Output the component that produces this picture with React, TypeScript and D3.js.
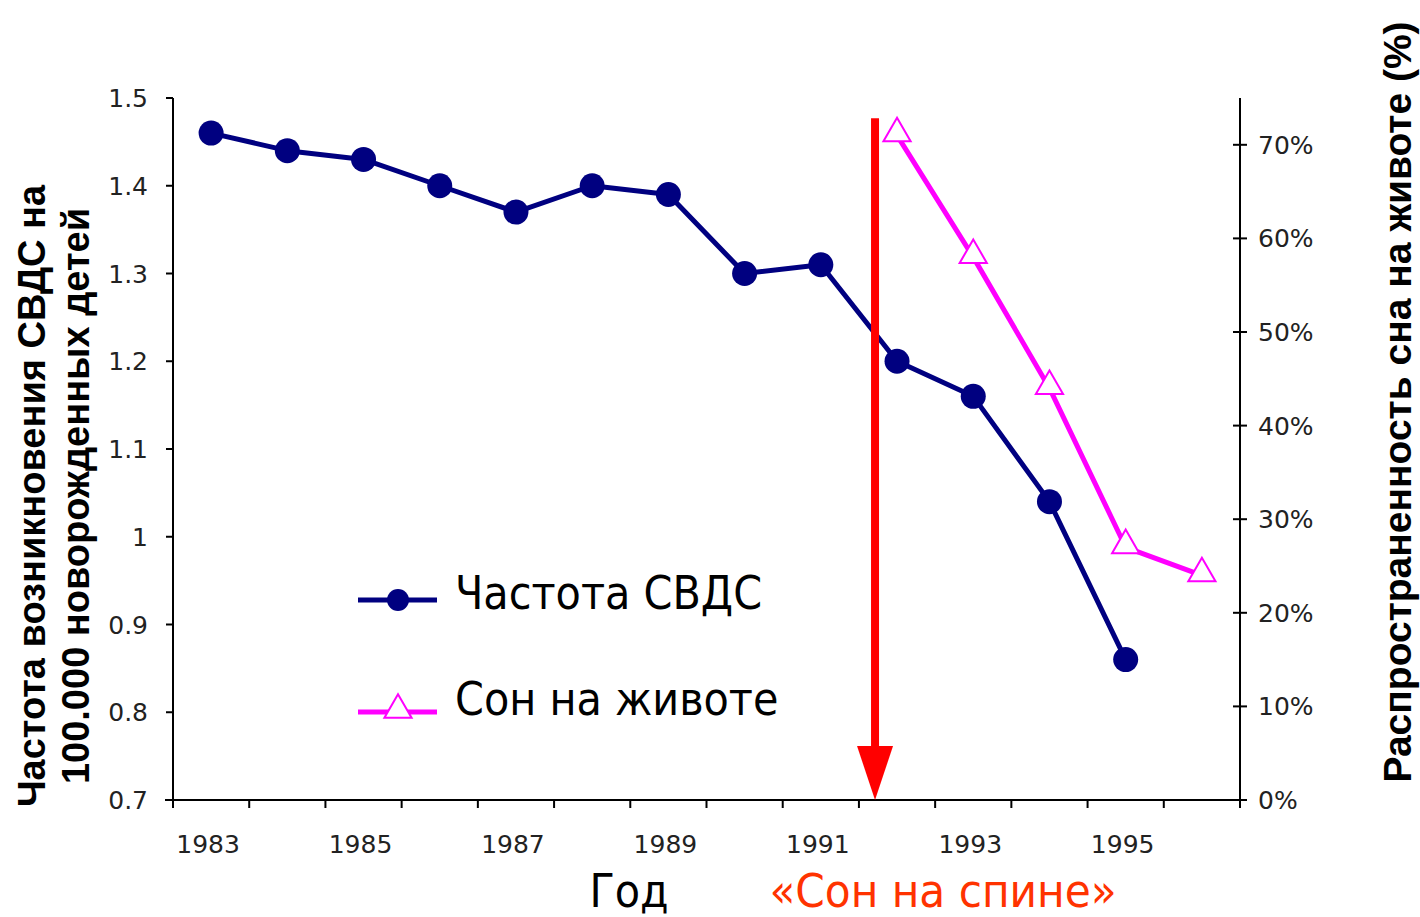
import React from "react";
import * as d3 from "d3";

// data
const years = [1983, 1984, 1985, 1986, 1987, 1988, 1989, 1990, 1991, 1992, 1993, 1994, 1995, 1996];
const sidsRate = [1.46, 1.44, 1.43, 1.4, 1.37, 1.4, 1.39, 1.3, 1.31, 1.2, 1.16, 1.04, 0.86, null];
const proneSleep = [null, null, null, null, null, null, null, null, null, 0.71, 0.58, 0.44, 0.27, 0.24];
const leftTicks = [0.7, 0.8, 0.9, 1, 1.1, 1.2, 1.3, 1.4, 1.5];
const rightTicks = [0, 0.1, 0.2, 0.3, 0.4, 0.5, 0.6, 0.7];
const yearLabels = [1983, 1985, 1987, 1989, 1991, 1993, 1995];

const NAVY = "#000080";
const MAGENTA = "#ff00ff";
const tickFont = "'DejaVu Sans', Verdana, sans-serif";
const labelFont = "'DejaVu Sans Condensed', 'DejaVu Sans', sans-serif";
const titleFont = "'Liberation Sans', Arial, sans-serif";

const App = () => {
  const width = 1420,
    height = 917;
  const plot = { left: 173, right: 1240, top: 98, bottom: 800 };

  const x = d3
    .scaleBand<number>()
    .domain(years)
    .range([plot.left, plot.right])
    .padding(0);
  const cx = (d: number) => (x(d) as number) + x.bandwidth() / 2;

  const yLeft = d3.scaleLinear().domain([0.7, 1.5]).range([plot.bottom, plot.top]);
  const yRight = d3.scaleLinear().domain([0, 0.75]).range([plot.bottom, plot.top]);

  const sidsPts = years
    .map((yr, i) => ({ yr, v: sidsRate[i] }))
    .filter((d) => d.v != null) as { yr: number; v: number }[];
  const pronePts = years
    .map((yr, i) => ({ yr, v: proneSleep[i] }))
    .filter((d) => d.v != null) as { yr: number; v: number }[];

  const sidsLine = d3
    .line<{ yr: number; v: number }>()
    .x((d) => cx(d.yr))
    .y((d) => yLeft(d.v))(sidsPts);
  const proneLine = d3
    .line<{ yr: number; v: number }>()
    .x((d) => cx(d.yr))
    .y((d) => yRight(d.v))(pronePts);

  const triangle = d3.symbol().type(d3.symbolTriangle).size(320)();

  // boundaries between year bands for x ticks
  const xTicks = years.map((yr) => x(yr) as number).concat([plot.right]);

  // red arrow ("back to sleep" campaign)
  const arrowX = cx(1992) - 22;
  const arrowTop = yLeft(1.477);
  const arrowBottom = plot.bottom;

  return (
    <svg width={width} height={height} style={{ display: "block", position: "absolute", left: 0, top: 0 }}>
      <rect width={width} height={height} fill="white" />

      {/* left axis */}
      <line x1={plot.left} x2={plot.left} y1={plot.top} y2={plot.bottom} stroke="#000" strokeWidth={2} />
      {leftTicks.map((t) => (
        <g key={t}>
          <line x1={plot.left - 7} x2={plot.left} y1={yLeft(t)} y2={yLeft(t)} stroke="#000" strokeWidth={2} />
          <text
            x={plot.left - 25}
            y={yLeft(t)}
            dy="0.36em"
            textAnchor="end"
            fontFamily={tickFont}
            fontSize={25}
            fill="#222"
          >
            {t === 1 ? "1" : d3.format(".1f")(t)}
          </text>
        </g>
      ))}

      {/* right axis */}
      <line x1={plot.right} x2={plot.right} y1={plot.top} y2={plot.bottom} stroke="#000" strokeWidth={2} />
      {rightTicks.map((t) => (
        <g key={t}>
          <line x1={plot.right - 7} x2={plot.right + 7} y1={yRight(t)} y2={yRight(t)} stroke="#000" strokeWidth={2} />
          <text
            x={plot.right + 18}
            y={yRight(t)}
            dy="0.36em"
            textAnchor="start"
            fontFamily={tickFont}
            fontSize={25}
            fill="#222"
          >
            {d3.format(".0%")(t)}
          </text>
        </g>
      ))}

      {/* x axis */}
      <line x1={plot.left - 8} x2={plot.right} y1={plot.bottom} y2={plot.bottom} stroke="#000" strokeWidth={2} />
      {xTicks.map((t, i) => (
        <line key={i} x1={t} x2={t} y1={plot.bottom} y2={plot.bottom + 8} stroke="#000" strokeWidth={2} />
      ))}
      {yearLabels.map((yr) => (
        <text
          key={yr}
          x={cx(yr) - 3}
          y={853}
          textAnchor="middle"
          fontFamily={tickFont}
          fontSize={25}
          fill="#222"
        >
          {yr}
        </text>
      ))}

      {/* series */}
      <path d={sidsLine ?? ""} fill="none" stroke={NAVY} strokeWidth={5} strokeLinejoin="round" />
      {sidsPts.map((d) => (
        <circle key={d.yr} cx={cx(d.yr)} cy={yLeft(d.v)} r={12.5} fill={NAVY} />
      ))}
      <path d={proneLine ?? ""} fill="none" stroke={MAGENTA} strokeWidth={5} strokeLinejoin="round" />
      {pronePts.map((d) => (
        <path
          key={d.yr}
          d={triangle ?? ""}
          transform={`translate(${cx(d.yr)},${yRight(d.v) - 2})`}
          fill="white"
          stroke={MAGENTA}
          strokeWidth={2}
        />
      ))}

      {/* arrow */}
      <line x1={arrowX} x2={arrowX} y1={arrowTop} y2={arrowBottom - 50} stroke="#ff0000" strokeWidth={8} />
      <path
        d={`M${arrowX - 18},${arrowBottom - 54} L${arrowX + 18},${arrowBottom - 54} L${arrowX},${arrowBottom} Z`}
        fill="#ff0000"
      />

      {/* legend */}
      <g>
        <line x1={358} x2={437} y1={600} y2={600} stroke={NAVY} strokeWidth={5} />
        <circle cx={398} cy={600} r={11} fill={NAVY} />
        <text x={455} y={609} fontFamily={labelFont} fontSize={46} fill="#000">
          Частота СВДС
        </text>
        <line x1={358} x2={437} y1={712} y2={712} stroke={MAGENTA} strokeWidth={5} />
        <path d={triangle ?? ""} transform="translate(398,710)" fill="white" stroke={MAGENTA} strokeWidth={2} />
        <text x={455} y={715} fontFamily={labelFont} fontSize={46} fill="#000">
          Сон на животе
        </text>
      </g>

      {/* axis titles */}
      <text
        transform="translate(45,496) rotate(-90)"
        textAnchor="middle"
        fontFamily={titleFont}
        fontWeight="bold"
        fontSize={38}
        fill="#000"
      >
        Частота возникновения СВДС на
      </text>
      <text
        transform="translate(89,496) rotate(-90)"
        textAnchor="middle"
        fontFamily={titleFont}
        fontWeight="bold"
        fontSize={38}
        fill="#000"
      >
        100.000 новорожденных детей
      </text>
      <text
        transform="translate(1411,402) rotate(-90)"
        textAnchor="middle"
        fontFamily={titleFont}
        fontWeight="bold"
        fontSize={39}
        fill="#000"
      >
        Распространенность сна на животе (%)
      </text>

      {/* bottom labels */}
      <text x={629} y={907} textAnchor="middle" fontFamily={labelFont} fontSize={46} fill="#000">
        Год
      </text>
      <text x={943} y={907} textAnchor="middle" fontFamily={labelFont} fontSize={47} fill="#ff3300">
        «Сон на спине»
      </text>
    </svg>
  );
};

export default App;
